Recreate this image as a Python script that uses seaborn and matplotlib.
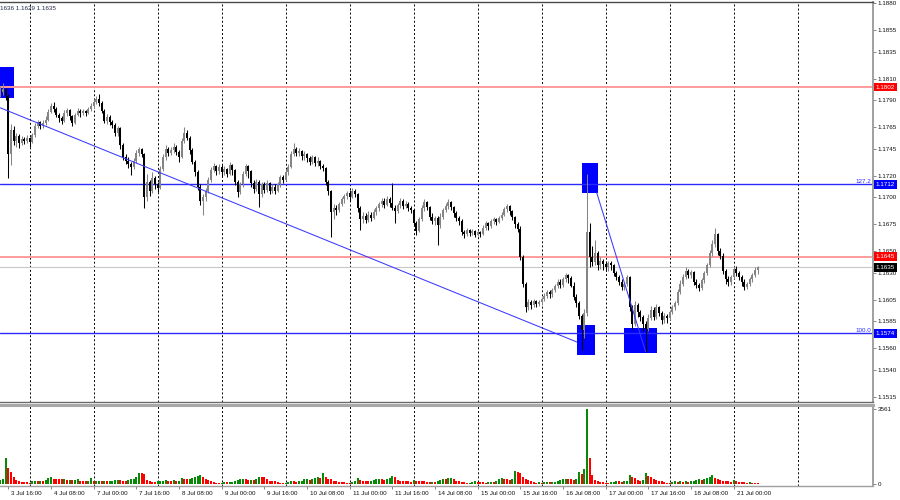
import numpy as np
import pandas as pd
import matplotlib
matplotlib.use("Agg")
import matplotlib.pyplot as plt
import matplotlib.transforms as mtransforms
from matplotlib.patches import Rectangle
import seaborn as sns

# ---------------- data (EURUSD H1, bar 0 = 3 Jul 16:00) ----------------
first_bar = -3
first_open = 1.1795

close_w0 = [1.1798, 1.1800, 1.1794, 1.1740, 1.1762, 1.1752, 1.1757, 1.1750, 1.1754, 1.1752,
            1.1755, 1.1751, 1.1758, 1.1766, 1.1770, 1.1766, 1.1769, 1.1772, 1.1779, 1.1785,
            1.1782, 1.1776, 1.1773, 1.1771, 1.1778, 1.1781, 1.1775, 1.1769, 1.1776, 1.1780,
            1.1778, 1.1780, 1.1778, 1.1782, 1.1785]
high_w0 = [1.1803, 1.1806, 1.1801, 1.1796, 1.1768, 1.1766, 1.1760, 1.1759, 1.1757, 1.1756,
           1.1758, 1.1756, 1.1760, 1.1769, 1.1772, 1.1771, 1.1772, 1.1775, 1.1782, 1.1787,
           1.1788, 1.1784, 1.1778, 1.1775, 1.1781, 1.1783, 1.1782, 1.1776, 1.1778, 1.1783,
           1.1782, 1.1782, 1.1781, 1.1784, 1.1787]
low_w0 = [1.1793, 1.1795, 1.1790, 1.1718, 1.1730, 1.1748, 1.1747, 1.1746, 1.1748, 1.1749,
          1.1750, 1.1747, 1.1750, 1.1756, 1.1764, 1.1763, 1.1764, 1.1767, 1.1771, 1.1778,
          1.1779, 1.1774, 1.1770, 1.1768, 1.1770, 1.1775, 1.1772, 1.1766, 1.1768, 1.1775,
          1.1774, 1.1776, 1.1775, 1.1777, 1.1780]
vol_w0 = [190, 240, 1230, 760, 570, 330, 190, 140, 100, 95,
          90, 70, 120, 140, 130, 160, 150, 190, 270, 330,
          260, 240, 230, 220, 240, 200, 210, 170, 190, 220,
          160, 150, 130, 150, 280]

close_w1 = [1.1788, 1.1791, 1.1787, 1.1780, 1.1771, 1.1774, 1.1770, 1.1767, 1.1760, 1.1764,
            1.1748, 1.1737, 1.1734, 1.1731, 1.1728, 1.1734, 1.1741, 1.1745, 1.1740, 1.1700,
            1.1714, 1.1706, 1.1718, 1.1712, 1.1709, 1.1726, 1.1737, 1.1745, 1.1741, 1.1744,
            1.1747, 1.1742, 1.1737, 1.1752, 1.1760, 1.1755, 1.1744, 1.1733, 1.1723, 1.1710,
            1.1697, 1.1700, 1.1706, 1.1716, 1.1725, 1.1729, 1.1724, 1.1728, 1.1723, 1.1726,
            1.1722, 1.1730, 1.1725, 1.1714, 1.1705, 1.1712, 1.1722, 1.1729, 1.1724, 1.1713,
            1.1708, 1.1714, 1.1703, 1.1712, 1.1707, 1.1713, 1.1706, 1.1710, 1.1706, 1.1712,
            1.1719, 1.1716, 1.1723, 1.1728, 1.1740, 1.1745, 1.1741, 1.1743, 1.1738, 1.1740,
            1.1736, 1.1733, 1.1737, 1.1732, 1.1734, 1.1729, 1.1727, 1.1714, 1.1706, 1.1686,
            1.1690, 1.1688, 1.1694, 1.1698, 1.1701, 1.1704, 1.1700, 1.1706, 1.1703, 1.1690,
            1.1680, 1.1683, 1.1679, 1.1684, 1.1681, 1.1686, 1.1690, 1.1694, 1.1697, 1.1693,
            1.1698, 1.1695, 1.1690, 1.1687, 1.1693, 1.1697, 1.1692, 1.1694, 1.1690, 1.1688]
high_w1 = [1.1791, 1.1794, 1.1796, 1.1789, 1.1782, 1.1777, 1.1776, 1.1772, 1.1769, 1.1766,
           1.1765, 1.1750, 1.1740, 1.1737, 1.1733, 1.1736, 1.1744, 1.1747, 1.1746, 1.1741,
           1.1722, 1.1716, 1.1723, 1.1720, 1.1714, 1.1729, 1.1740, 1.1748, 1.1747, 1.1747,
           1.1750, 1.1748, 1.1744, 1.1755, 1.1765, 1.1762, 1.1757, 1.1746, 1.1735, 1.1725,
           1.1712, 1.1703, 1.1709, 1.1719, 1.1728, 1.1732, 1.1730, 1.1731, 1.1730, 1.1729,
           1.1727, 1.1733, 1.1731, 1.1726, 1.1716, 1.1714, 1.1724, 1.1731, 1.1730, 1.1725,
           1.1716, 1.1717, 1.1716, 1.1714, 1.1714, 1.1716, 1.1714, 1.1712, 1.1712, 1.1714,
           1.1721, 1.1721, 1.1726, 1.1731, 1.1743, 1.1750, 1.1747, 1.1746, 1.1744, 1.1743,
           1.1741, 1.1738, 1.1739, 1.1738, 1.1737, 1.1735, 1.1731, 1.1728, 1.1716, 1.1707,
           1.1694, 1.1693, 1.1696, 1.1700, 1.1703, 1.1706, 1.1707, 1.1709, 1.1708, 1.1704,
           1.1692, 1.1686, 1.1685, 1.1687, 1.1686, 1.1689, 1.1692, 1.1696, 1.1699, 1.1699,
           1.1701, 1.1700, 1.1713, 1.1693, 1.1695, 1.1699, 1.1698, 1.1697, 1.1696, 1.1692]
low_w1 = [1.1783, 1.1786, 1.1785, 1.1778, 1.1769, 1.1768, 1.1767, 1.1764, 1.1757, 1.1757,
          1.1745, 1.1735, 1.1731, 1.1727, 1.1721, 1.1726, 1.1732, 1.1738, 1.1737, 1.1690,
          1.1697, 1.1701, 1.1704, 1.1708, 1.1705, 1.1708, 1.1724, 1.1735, 1.1738, 1.1739,
          1.1741, 1.1739, 1.1733, 1.1736, 1.1750, 1.1753, 1.1740, 1.1731, 1.1720, 1.1707,
          1.1693, 1.1684, 1.1697, 1.1704, 1.1714, 1.1723, 1.1721, 1.1722, 1.1720, 1.1721,
          1.1719, 1.1721, 1.1721, 1.1711, 1.1700, 1.1703, 1.1710, 1.1720, 1.1718, 1.1710,
          1.1704, 1.1706, 1.1691, 1.1700, 1.1704, 1.1705, 1.1703, 1.1704, 1.1703, 1.1705,
          1.1710, 1.1713, 1.1715, 1.1721, 1.1727, 1.1738, 1.1738, 1.1738, 1.1735, 1.1735,
          1.1733, 1.1730, 1.1731, 1.1729, 1.1729, 1.1726, 1.1724, 1.1711, 1.1702, 1.1663,
          1.1680, 1.1684, 1.1686, 1.1692, 1.1695, 1.1698, 1.1697, 1.1699, 1.1700, 1.1686,
          1.1670, 1.1676, 1.1676, 1.1677, 1.1678, 1.1680, 1.1684, 1.1687, 1.1691, 1.1690,
          1.1692, 1.1691, 1.1688, 1.1676, 1.1685, 1.1690, 1.1689, 1.1690, 1.1687, 1.1685]
vol_w1 = [120, 140, 150, 130, 140, 120, 130, 160, 180, 190,
          170, 160, 150, 180, 230, 260, 310, 540, 500, 470,
          210, 150, 110, 100, 120, 140, 150, 190, 160, 150,
          170, 140, 150, 290, 260, 230, 250, 270, 320, 360,
          430, 330, 260, 200, 140, 90, 70, 60, 70, 90,
          80, 100, 110, 130, 170, 220, 240, 220, 180, 200,
          190, 240, 330, 330, 320, 240, 160, 150, 120, 80,
          70, 60, 70, 110, 140, 120, 100, 140, 160, 230,
          250, 210, 240, 280, 350, 290, 530, 330, 260, 220,
          160, 120, 100, 90, 80, 70, 60, 110, 140, 290,
          200, 150, 140, 130, 160, 190, 240, 260, 220, 200,
          230, 280, 380, 330, 180, 150, 140, 130, 120, 110]

close_w2 = [1.1676, 1.1669, 1.1680, 1.1690, 1.1696, 1.1691, 1.1682, 1.1678, 1.1681, 1.1674,
            1.1682, 1.1688, 1.1692, 1.1696, 1.1691, 1.1685, 1.1681, 1.1678, 1.1668, 1.1666,
            1.1670, 1.1667, 1.1669, 1.1665, 1.1668, 1.1666, 1.1672, 1.1676, 1.1673, 1.1678,
            1.1680, 1.1677, 1.1681, 1.1684, 1.1689, 1.1692, 1.1687, 1.1682, 1.1675, 1.1671,
            1.1645, 1.1620, 1.1598, 1.1603, 1.1600, 1.1604, 1.1601, 1.1603, 1.1606, 1.1609,
            1.1612, 1.1610, 1.1614, 1.1618, 1.1622, 1.1619, 1.1624, 1.1628, 1.1625, 1.1618,
            1.1608, 1.1602, 1.1590, 1.1577, 1.1593, 1.1668, 1.1645, 1.1640, 1.1648, 1.1637,
            1.1641, 1.1638, 1.1635, 1.1639, 1.1637, 1.1630, 1.1626, 1.1622, 1.1617, 1.1620,
            1.1626, 1.1598, 1.1583, 1.1600, 1.1594, 1.1589, 1.1583, 1.1578, 1.1588, 1.1596,
            1.1589, 1.1598, 1.1593, 1.1586, 1.1590, 1.1588, 1.1594, 1.1598, 1.1602, 1.1612,
            1.1620, 1.1626, 1.1632, 1.1628, 1.1631, 1.1622, 1.1619, 1.1616, 1.1623, 1.1630,
            1.1637, 1.1648, 1.1657, 1.1666, 1.1650, 1.1646, 1.1632, 1.1624, 1.1622, 1.1626]
high_w2 = [1.1689, 1.1678, 1.1682, 1.1693, 1.1698, 1.1697, 1.1692, 1.1685, 1.1683, 1.1683,
           1.1685, 1.1690, 1.1695, 1.1698, 1.1697, 1.1692, 1.1687, 1.1683, 1.1680, 1.1670,
           1.1672, 1.1671, 1.1671, 1.1670, 1.1670, 1.1669, 1.1674, 1.1678, 1.1677, 1.1680,
           1.1682, 1.1681, 1.1683, 1.1686, 1.1691, 1.1694, 1.1693, 1.1688, 1.1683, 1.1677,
           1.1673, 1.1647, 1.1622, 1.1606, 1.1605, 1.1606, 1.1605, 1.1605, 1.1608, 1.1611,
           1.1614, 1.1614, 1.1616, 1.1620, 1.1624, 1.1624, 1.1626, 1.1630, 1.1629, 1.1627,
           1.1622, 1.1610, 1.1604, 1.1592, 1.1597, 1.1722, 1.1676, 1.1655, 1.1660, 1.1650,
           1.1645, 1.1643, 1.1641, 1.1641, 1.1641, 1.1638, 1.1632, 1.1628, 1.1624, 1.1622,
           1.1628, 1.1627, 1.1600, 1.1604, 1.1602, 1.1596, 1.1591, 1.1585, 1.1592, 1.1599,
           1.1598, 1.1601, 1.1599, 1.1595, 1.1593, 1.1592, 1.1596, 1.1600, 1.1604, 1.1615,
           1.1623, 1.1629, 1.1635, 1.1634, 1.1633, 1.1632, 1.1624, 1.1621, 1.1625, 1.1632,
           1.1639, 1.1651, 1.1660, 1.1672, 1.1667, 1.1653, 1.1648, 1.1634, 1.1627, 1.1628]
low_w2 = [1.1674, 1.1665, 1.1668, 1.1678, 1.1687, 1.1688, 1.1679, 1.1675, 1.1674, 1.1656,
          1.1672, 1.1680, 1.1686, 1.1689, 1.1688, 1.1682, 1.1678, 1.1674, 1.1665, 1.1662,
          1.1664, 1.1664, 1.1665, 1.1663, 1.1664, 1.1663, 1.1665, 1.1670, 1.1670, 1.1672,
          1.1675, 1.1674, 1.1676, 1.1679, 1.1683, 1.1686, 1.1684, 1.1679, 1.1672, 1.1668,
          1.1642, 1.1617, 1.1594, 1.1596, 1.1597, 1.1598, 1.1598, 1.1599, 1.1600, 1.1604,
          1.1607, 1.1607, 1.1608, 1.1612, 1.1616, 1.1616, 1.1617, 1.1622, 1.1621, 1.1617,
          1.1605, 1.1598, 1.1587, 1.1559, 1.1570, 1.1590, 1.1635, 1.1636, 1.1637, 1.1633,
          1.1634, 1.1633, 1.1632, 1.1632, 1.1633, 1.1627, 1.1623, 1.1619, 1.1614, 1.1614,
          1.1618, 1.1595, 1.1578, 1.1581, 1.1589, 1.1585, 1.1576, 1.1557, 1.1576, 1.1586,
          1.1586, 1.1587, 1.1590, 1.1583, 1.1584, 1.1584, 1.1586, 1.1592, 1.1596, 1.1600,
          1.1610, 1.1618, 1.1624, 1.1625, 1.1625, 1.1619, 1.1616, 1.1613, 1.1614, 1.1621,
          1.1628, 1.1635, 1.1646, 1.1654, 1.1647, 1.1643, 1.1629, 1.1620, 1.1618, 1.1619]
vol_w2 = [190, 150, 130, 130, 120, 110, 100, 110, 110, 120,
          210, 260, 250, 270, 300, 240, 150, 120, 90, 80,
          60, 70, 100, 120, 90, 80, 80, 70, 90, 110,
          100, 120, 230, 280, 240, 230, 200, 240, 620, 580,
          530, 330, 260, 180, 120, 90, 60, 80, 70, 90,
          100, 80, 100, 110, 140, 200, 240, 260, 230, 220,
          200, 240, 560, 475, 710, 3561, 1230, 430, 200, 150,
          100, 80, 70, 60, 80, 110, 130, 120, 110, 130,
          140, 430, 330, 290, 200, 150, 190, 520, 380, 330,
          240, 200, 150, 120, 100, 70, 60, 110, 130, 110,
          120, 100, 120, 110, 130, 150, 190, 230, 210, 250,
          300, 340, 420, 300, 240, 170, 150, 140, 130, 110]

close_w3 = [1.1634, 1.1630, 1.1626, 1.1622, 1.1617, 1.1620, 1.1624, 1.1628, 1.1633, 1.1635]
high_w3 = [1.1636, 1.1636, 1.1632, 1.1628, 1.1624, 1.1622, 1.1626, 1.1630, 1.1635, 1.1636]
low_w3 = [1.1624, 1.1627, 1.1623, 1.1618, 1.1614, 1.1615, 1.1618, 1.1622, 1.1626, 1.1629]
vol_w3 = [210, 130, 110, 100, 90, 70, 80, 60, 50, 40]

# analyst levels drawn on the chart
level_prices = [1.1802, 1.1712, 1.1645, 1.1574]
level_colors = ["#ff9a9a", "#2a2aff", "#ff9a9a", "#2a2aff"]
level_box_colors = ["#ff0000", "#0000ff", "#ff0000", "#0000ff"]
fib_texts = {1.1712: "127.2", 1.1574: "100.0"}

price_ticks = ["1.1880", "1.1855", "1.1835", "1.1810", "1.1790", "1.1765", "1.1745", "1.1720",
               "1.1700", "1.1675", "1.1650", "1.1630", "1.1605", "1.1585", "1.1560", "1.1540", "1.1515"]
time_labels = ["3 Jul 16:00", "4 Jul 08:00", "7 Jul 00:00", "7 Jul 16:00", "8 Jul 08:00",
               "9 Jul 00:00", "9 Jul 16:00", "10 Jul 08:00", "11 Jul 00:00", "11 Jul 16:00",
               "14 Jul 08:00", "15 Jul 00:00", "15 Jul 16:00", "16 Jul 08:00", "17 Jul 00:00",
               "17 Jul 16:00", "18 Jul 08:00", "21 Jul 00:00"]
ohlc_header = "1636 1.1629 1.1635"

# ---------------- assemble ----------------
close = np.array(close_w0 + close_w1 + close_w2 + close_w3)
high = np.array(high_w0 + high_w1 + high_w2 + high_w3)
low = np.array(low_w0 + low_w1 + low_w2 + low_w3)
volume = np.array(vol_w0 + vol_w1 + vol_w2 + vol_w3)
assert len(close) == len(high) == len(low) == len(volume), (len(close), len(high), len(low), len(volume))
n = len(close)
bars = np.arange(n) + first_bar
opn = np.concatenate([[first_open], close[:-1]])

# ---------------- styling ----------------
sns.set_style("white")
plt.rcParams['font.family'] = ['Liberation Sans', 'DejaVu Sans']
FS = 4.5
BULL = "#858585"
BEAR = "#000000"
GREEN = "#078a07"
RED = "#ff0000"
AXIS_GRAY = "#a0a0a0"

fig = plt.figure(figsize=(9, 5), dpi=100)
W, H = 900.0, 500.0
ax = fig.add_axes([0, 1 - 402 / H, 873 / W, 400 / H])
axv = fig.add_axes([0, 1 - 486 / H, 873 / W, 81 / H])

px_per_bar = 8 / 3.0
x0 = first_bar - 0.1
x1 = x0 + 873 / px_per_bar
ax.set_xlim(x0, x1)
axv.set_xlim(x0, x1)
ax.set_ylim(1.15104, 1.18809)
axv.set_ylim(-95, 3751)

# day grid
grid_bars = np.arange(8, 300, 24)
for a in (ax, axv):
    for g in grid_bars:
        a.axvline(g, color="#000000", lw=0.7, ls=(0, (2.0, 2.2)), zorder=1)

# fib marker boxes (annotation shapes, bar/price coordinates)
fib_boxes = [(-3.1, 1.17920, 5.25, 0.00287),
             (215.1, 1.17040, 6.0, 0.00278),
             (213.2, 1.15539, 6.8, 0.00278),
             (230.9, 1.15558, 12.3, 0.00231)]
for bx, by, bw, bh in fib_boxes:
    ax.add_patch(Rectangle((bx, by), bw, bh, facecolor="#0000ff", edgecolor="none", zorder=2))

# horizontal levels
for p, col in zip(level_prices, level_colors):
    ax.axhline(p, color=col, lw=1.4 if col.startswith("#ff") else 1.0, zorder=2)
last_price = close[-1]
ax.axhline(last_price, color="#c8c8c8", lw=0.8, zorder=2)

# analyst trend lines
ax.plot([-3.1, 213.2], [1.1783, 1.1566], color="#3a3aff", lw=0.75, zorder=5)
ax.plot([220.7, bars[np.argmin(low)]], [1.1704, low.min()], color="#3a3aff", lw=0.75, zorder=5)

# candles
up = close >= opn
body_lo = np.minimum(opn, close)
body_h = np.maximum(np.abs(close - opn), 0.00005)
ax.vlines(bars[up], low[up], high[up], color=BULL, lw=0.75, zorder=3)
ax.vlines(bars[~up], low[~up], high[~up], color=BEAR, lw=0.75, zorder=3)
ax.bar(bars[up], body_h[up], bottom=body_lo[up], width=0.78, color=BULL, lw=0, zorder=4)
ax.bar(bars[~up], body_h[~up], bottom=body_lo[~up], width=0.78, color=BEAR, lw=0, zorder=4)

# volumes (MT4 style: green when volume rises vs previous bar)
vdir = np.where(np.diff(volume, prepend=0) > 0, "up", "down")
vol_df = pd.DataFrame({"bar": bars, "volume": volume, "dir": vdir})
sns.barplot(data=vol_df, x="bar", y="volume", hue="dir", palette={"up": GREEN, "down": RED},
            native_scale=True, width=0.78, dodge=False, errorbar=None, legend=False,
            ax=axv, linewidth=0, saturation=1)
axv.set_xlim(x0, x1)
axv.set_ylim(-95, 3751)
axv.set_xlabel("")
axv.set_ylabel("")

# ---------------- axes decoration ----------------
for a in (ax, axv):
    for s in a.spines.values():
        s.set_visible(False)
ax.spines["top"].set_visible(True)
ax.spines["top"].set_color("#4a4a4a")
ax.spines["top"].set_linewidth(1.0)
ax.spines["right"].set_visible(True)
ax.spines["right"].set_color(AXIS_GRAY)
ax.spines["right"].set_linewidth(1.4)
ax.spines["bottom"].set_visible(True)
ax.spines["bottom"].set_color("#6a6a6a")
ax.spines["bottom"].set_linewidth(1.0)
axv.spines["top"].set_visible(True)
axv.spines["top"].set_color("#a8a8a8")
axv.spines["top"].set_linewidth(2.2)
axv.spines["right"].set_visible(True)
axv.spines["right"].set_color(AXIS_GRAY)
axv.spines["right"].set_linewidth(1.4)
axv.spines["bottom"].set_visible(True)
axv.spines["bottom"].set_color(AXIS_GRAY)
axv.spines["bottom"].set_linewidth(1.0)

ax.yaxis.tick_right()
ax.set_yticks([float(t) for t in price_ticks])
ax.set_yticklabels(price_ticks)
ax.tick_params(axis="y", which="both", right=True, left=False, length=2, width=0.6,
               color="#707070", pad=1.5, labelsize=FS, labelcolor="#111111")
ax.set_xticks([])

axv.yaxis.tick_right()
axv.set_yticks([0, volume.max()])
axv.set_yticklabels(["0", str(volume.max())])
axv.tick_params(axis="y", right=True, left=False, length=2, width=0.6,
                color="#707070", pad=1.5, labelsize=FS, labelcolor="#111111")

axv.set_xticks(np.arange(len(time_labels)) * 16)
axv.set_xticklabels(time_labels)
axv.tick_params(axis="x", bottom=True, length=2, width=0.6, color="#707070",
                pad=1.5, labelsize=FS, labelcolor="#111111")
offset = mtransforms.ScaledTranslation(3 / 100.0, 0, fig.dpi_scale_trans)
for lbl in axv.get_xticklabels():
    lbl.set_ha("left")
    lbl.set_transform(lbl.get_transform() + offset)

# price label boxes on the axis
btrans = mtransforms.blended_transform_factory(ax.transAxes, ax.transData)
for p, bc in zip(level_prices, level_box_colors):
    ax.text(1.0 + 2.5 / 873, p, f"{p:.4f}", transform=btrans, ha="left", va="center",
            fontsize=FS, color="white", zorder=20, clip_on=False,
            bbox=dict(boxstyle="square,pad=0.28", fc=bc, ec="none"))
ax.text(1.0 + 2.5 / 873, last_price, f"{last_price:.4f}", transform=btrans, ha="left",
        va="center", fontsize=FS, color="white", zorder=20, clip_on=False,
        bbox=dict(boxstyle="square,pad=0.28", fc="#000000", ec="none"))
for p, t in fib_texts.items():
    ax.text(1.0 - 1.5 / 873, p + 0.00003, t, transform=btrans, ha="right", va="bottom",
            fontsize=FS, color="#2a2aff", zorder=20)

fig.text(0.0, 1 - 8 / H, ohlc_header, ha="left", va="center", fontsize=FS,
         color="#1e2a48")

fig.savefig("out.png", dpi=100)
